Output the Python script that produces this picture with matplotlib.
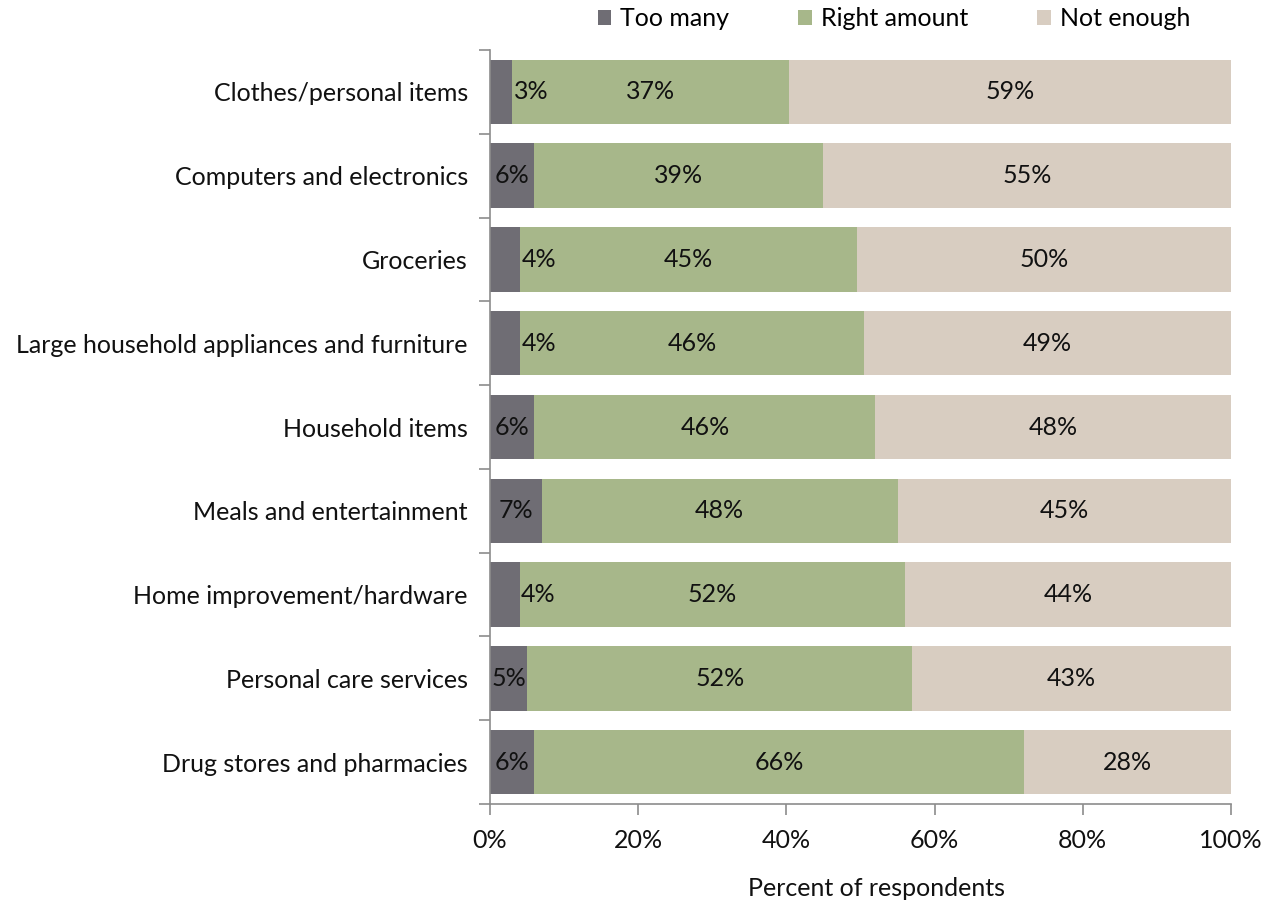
import matplotlib
matplotlib.use("Agg")
import matplotlib.pyplot as plt
from matplotlib.patches import Patch
import numpy as np

plt.rcParams['font.family'] = ['Lato', 'DejaVu Sans']

categories = [
    "Clothes/personal items",
    "Computers and electronics",
    "Groceries",
    "Large household appliances and furniture",
    "Household items",
    "Meals and entertainment",
    "Home improvement/hardware",
    "Personal care services",
    "Drug stores and pharmacies",
]
too_many = [3, 6, 4, 4, 6, 7, 4, 5, 6]
right_amount = [37, 39, 45, 46, 46, 48, 52, 52, 66]
not_enough = [59, 55, 50, 49, 48, 45, 44, 43, 28]
series_names = ["Too many", "Right amount", "Not enough"]
colors = ["#6F6D74", "#A7B78A", "#D8CDC1"]
x_ticks = [0, 20, 40, 60, 80, 100]

data = np.array([too_many, right_amount, not_enough], dtype=float)
shares = data / data.sum(axis=0) * 100  # 100% stacked

fig = plt.figure(figsize=(12.76, 9.07), dpi=100)
ax = fig.add_axes([490 / 1276, 1 - 804 / 907, (1231 - 490) / 1276, (804 - 50) / 907])

y = np.arange(len(categories))
left = np.zeros(len(categories))
fs = 18
for i, (name, col) in enumerate(zip(series_names, colors)):
    ax.barh(y, shares[i], left=left, height=0.77, color=col, edgecolor='none', label=name)
    for j in range(len(categories)):
        val = data[i, j]
        w = shares[i, j]
        if i == 0 and val < 5:
            ax.text(left[j] + w + 0.2, y[j], f"{val:.0f}%", ha='left', va='center',
                    fontsize=fs, color='#111111')
        else:
            ax.text(left[j] + w / 2, y[j], f"{val:.0f}%", ha='center', va='center',
                    fontsize=fs, color='#111111')
    left += shares[i]

ax.set_ylim(len(categories) - 0.5, -0.5)
ax.set_xlim(0, 100)
ax.set_yticks(y)
ax.set_yticklabels(categories, fontsize=fs, color='#111111')
ax.set_yticks(np.arange(-0.5, len(categories), 1), minor=True)
ax.tick_params(axis='y', which='major', length=0, pad=16)
ax.tick_params(axis='y', which='minor', length=8, width=1.2, color='#8C8C8C', direction='out')
ax.set_xticks(x_ticks)
ax.set_xticklabels([f"{t}%" for t in x_ticks], fontsize=fs, color='#111111')
ax.tick_params(axis='x', length=8, width=1.2, color='#8C8C8C', direction='out', pad=10)

for s in ['top', 'right']:
    ax.spines[s].set_visible(False)
for s in ['left', 'bottom']:
    ax.spines[s].set_color('#8C8C8C')
    ax.spines[s].set_linewidth(1.2)

fig.text(877 / 1276, 1 - 889 / 907, "Percent of respondents", ha='center', va='center',
         fontsize=fs, color='#111111')

handles = [Patch(facecolor=c, edgecolor='none') for c in colors]
fig.legend(handles, series_names, loc='center', bbox_to_anchor=(894 / 1276, 1 - 19 / 907),
           ncol=3, frameon=False, fontsize=fs, handlelength=0.55, handleheight=0.55,
           handletextpad=0.36, columnspacing=2.76)

fig.savefig("out.png", dpi=100)
